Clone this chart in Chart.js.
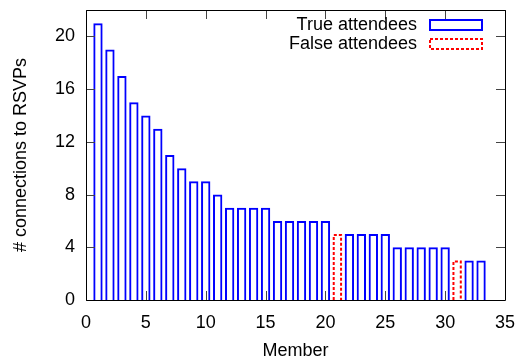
<!DOCTYPE html>
<html>
<head>
<meta charset="utf-8">
<script src="https://cdn.jsdelivr.net/npm/chart.js@4.4.0/dist/chart.umd.min.js"></script>
<style>
  html, body { margin: 0; padding: 0; background: #fff; }
  #wrap { width: 520px; height: 358px; }
</style>
</head>
<body>
<div id="wrap"><canvas id="rsvpChart"></canvas></div>
<script>
// --- data ---
const members = [1, 2, 3, 4, 5, 6, 7, 8, 9, 10, 11, 12, 13, 14, 15, 16, 17,
                 18, 19, 20, 21, 22, 23, 24, 25, 26, 27, 28, 29, 30, 31, 32, 33];
const connections = [21, 19, 17, 15, 14, 13, 11, 10, 9, 9, 8, 7, 7, 7, 7, 6, 6,
                     6, 6, 6, 5, 5, 5, 5, 5, 4, 4, 4, 4, 4, 3, 3, 3];
const falseMembers = [21, 31];   // members flagged as false attendees
const xTicks = [0, 5, 10, 15, 20, 25, 30, 35];
const yTicks = [0, 4, 8, 12, 16, 20];
const seriesLabels = ['True attendees', 'False attendees'];

const FONT = { family: '"Liberation Sans", Arial, sans-serif', size: 18 };

const truePoints = [];
const falsePoints = [];
members.forEach((m, i) => {
    const p = { x: m, y: connections[i] };
    if (falseMembers.includes(m)) falsePoints.push(p);
    else truePoints.push(p);
});

// gnuplot-like frame, inward mirrored ticks, dashed bars and key
const gnuplotLook = {
    id: 'gnuplotLook',
    afterDatasetsDraw(chart) {
        const ctx = chart.ctx;
        const meta = chart.getDatasetMeta(1);
        ctx.save();
        ctx.strokeStyle = '#ff0000';
        ctx.lineWidth = 2;
        ctx.setLineDash([3, 2]);
        meta.data.forEach(bar => {
            const { x, y, base, width } = bar.getProps(['x', 'y', 'base', 'width'], true);
            const l = x - width / 2 + 1, r = x + width / 2 - 1, t = y + 1;
            ctx.beginPath();
            ctx.moveTo(l, base);
            ctx.lineTo(l, t);
            ctx.lineTo(r, t);
            ctx.lineTo(r, base);
            ctx.stroke();
        });
        ctx.restore();
    },
    afterDraw(chart) {
        const ctx = chart.ctx;
        const a = chart.chartArea;
        const xs = chart.scales.x, ys = chart.scales.y;
        const tl = 9;
        ctx.save();
        ctx.globalAlpha = 1;
        ctx.globalCompositeOperation = 'source-over';
        ctx.setLineDash([]);
        // ticks
        ctx.strokeStyle = '#444444';
        ctx.lineWidth = 1;
        ctx.beginPath();
        xTicks.forEach(v => {
            const px = Math.round(xs.getPixelForValue(v)) + 0.5;
            ctx.moveTo(px, a.bottom); ctx.lineTo(px, a.bottom - tl);
            ctx.moveTo(px, a.top); ctx.lineTo(px, a.top + tl);
        });
        yTicks.forEach(v => {
            const py = Math.round(ys.getPixelForValue(v)) + 0.5;
            ctx.moveTo(a.left, py); ctx.lineTo(a.left + tl, py);
            ctx.moveTo(a.right, py); ctx.lineTo(a.right - tl, py);
        });
        ctx.stroke();
        // frame
        ctx.strokeStyle = '#000000';
        ctx.beginPath();
        ctx.rect(Math.round(a.left) + 0.5, Math.round(a.top) + 0.5,
                 Math.round(a.right - a.left), Math.round(a.bottom - a.top));
        ctx.stroke();
        // key
        ctx.font = FONT.size + 'px ' + FONT.family;
        ctx.fillStyle = '#000';
        ctx.textAlign = 'right';
        ctx.textBaseline = 'middle';
        const boxL = a.right - 75, boxR = a.right - 23, textR = a.right - 88;
        seriesLabels.forEach((label, i) => {
            const cy = a.top + 15 + i * 19;
            ctx.fillText(label, textR, cy);
            ctx.lineWidth = 2;
            if (i === 0) {
                ctx.strokeStyle = '#0000ff';
                ctx.setLineDash([]);
            } else {
                ctx.strokeStyle = '#ff0000';
                ctx.setLineDash([3, 2]);
            }
            ctx.strokeRect(boxL, cy - 5, boxR - boxL, 10);
        });
        ctx.restore();
    }
};

new Chart(document.getElementById('rsvpChart'), {
    type: 'bar',
    data: {
        datasets: [{
            label: seriesLabels[0],
            data: truePoints,
            borderColor: '#0000ff',
            backgroundColor: 'rgba(0,0,0,0)',
            borderWidth: 2,
            barPercentage: 1,
            categoryPercentage: 0.78
        }, {
            label: seriesLabels[1],
            data: falsePoints,
            borderColor: 'rgba(0,0,0,0)',
            backgroundColor: 'rgba(0,0,0,0)',
            borderWidth: 0,
            barPercentage: 1,
            categoryPercentage: 0.78
        }]
    },
    options: {
        responsive: true,
        maintainAspectRatio: false,
        animation: false,
        grouped: false,
        layout: { padding: { left: 0, top: 10, right: 15, bottom: 0 } },
        scales: {
            x: {
                type: 'linear',
                offset: false,
                min: 0, max: 35,
                grid: { display: false, drawTicks: false, offset: false },
                border: { display: false },
                afterBuildTicks: s => { s.ticks = xTicks.map(v => ({ value: v })); },
                afterFit: s => {
                    s.height = 58;
                    s.paddingLeft = 0; s.paddingRight = 0;
                },
                ticks: { color: '#000', font: FONT, padding: 12, maxRotation: 0 },
                title: { display: true, text: 'Member', color: '#000', font: FONT, padding: { top: 0, bottom: -4 } }
            },
            y: {
                min: 0, max: 22,
                grid: { display: false, drawTicks: false },
                border: { display: false },
                afterBuildTicks: s => { s.ticks = yTicks.map(v => ({ value: v })); },
                afterFit: s => {
                    s.width = 86;
                    s.paddingTop = 0; s.paddingBottom = 0;
                },
                ticks: { color: '#000', font: FONT, padding: 11 },
                title: { display: true, text: '# connections to RSVPs', color: '#000', font: FONT, padding: { top: 10, bottom: 0 } }
            }
        },
        plugins: {
            legend: { display: false },
            tooltip: { enabled: false }
        }
    },
    plugins: [gnuplotLook]
});
</script>
</body>
</html>
